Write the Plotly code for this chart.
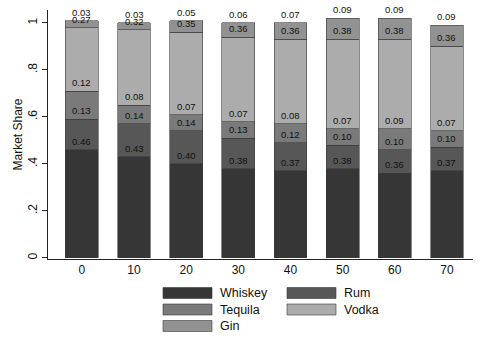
import plotly.graph_objects as go

# Market share by period, stacked from the bottom up
periods = [0, 10, 20, 30, 40, 50, 60, 70]
whiskey = [0.46, 0.43, 0.40, 0.38, 0.37, 0.38, 0.36, 0.37]
rum = [0.13, 0.14, 0.14, 0.13, 0.12, 0.10, 0.10, 0.10]
tequila = [0.12, 0.08, 0.07, 0.07, 0.08, 0.07, 0.09, 0.07]
vodka = [0.27, 0.32, 0.35, 0.36, 0.36, 0.38, 0.38, 0.36]
gin = [0.03, 0.03, 0.05, 0.06, 0.07, 0.09, 0.09, 0.09]

series_names = ["Whiskey", "Rum", "Tequila", "Vodka", "Gin"]
series_values = [whiskey, rum, tequila, vodka, gin]
series_colors = ["#363636", "#575757", "#7a7a7a", "#acacac", "#929292"]

y_ticks = [0, 0.2, 0.4, 0.6, 0.8, 1]
y_tick_labels = ["0", ".2", ".4", ".6", ".8", "1"]

W, H = 481, 343
PL, PR, PT, PB = 48, 473, 10, 259  # plot area in pixels
FONT = "Liberation Sans, Arial, sans-serif"


def px_x(x):
    return (x - PL) / (PR - PL)


def px_y(y):
    return (PB - y) / (PB - PT)


fig = go.Figure()
annotations = []
shapes = []

running = [0.0] * len(periods)
for name, vals, col in zip(series_names, series_values, series_colors):
    fig.add_trace(go.Bar(
        x=periods, y=vals, name=name, width=6.3,
        marker=dict(color=col, line=dict(color="#3a3a3a", width=0.6)),
        showlegend=False,
    ))
    running = [r + v for r, v in zip(running, vals)]
    # value label just above the end of each segment
    for xp, top, v in zip(periods, running, vals):
        annotations.append(dict(
            x=xp, y=top, xref="x", yref="y", text=f"{v:.2f}",
            showarrow=False, yanchor="bottom", yshift=1,
            font=dict(family=FONT, size=9.5, color="#111111"),
        ))

# legend block below the plot: two columns, filled row by row
col_x = [163, 287]
row_y = [293, 309.5, 326]
sw_w, sw_h = 49, 11
for i, (name, col) in enumerate(zip(series_names, series_colors)):
    cx = col_x[i % 2]
    cy = row_y[i // 2]
    shapes.append(dict(
        type="rect", xref="paper", yref="paper",
        x0=px_x(cx), x1=px_x(cx + sw_w),
        y0=px_y(cy + sw_h / 2), y1=px_y(cy - sw_h / 2),
        fillcolor=col, line=dict(color="#3a3a3a", width=0.6),
    ))
    annotations.append(dict(
        x=px_x(cx + sw_w + 6), y=px_y(cy), xref="paper", yref="paper",
        text=name, showarrow=False, xanchor="left", yanchor="middle",
        font=dict(family=FONT, size=12.5, color="#111111"),
    ))

fig.update_layout(
    width=W, height=H,
    margin=dict(l=PL, r=W - PR, t=PT, b=H - PB),
    paper_bgcolor="white", plot_bgcolor="white",
    barmode="stack",
    annotations=annotations,
    shapes=shapes,
    font=dict(family=FONT, color="#111111"),
)
fig.update_xaxes(
    range=[-6.5, 75], tickvals=periods, ticktext=[str(p) for p in periods],
    showgrid=False, zeroline=False, showline=True, linecolor="#222", linewidth=1,
    ticks="", tickfont=dict(size=12, family=FONT, color="#111111"),
)
fig.update_yaxes(
    range=[-0.005, 1.055], tickvals=y_ticks, ticktext=y_tick_labels,
    tickangle=-90, showgrid=False, zeroline=False,
    showline=True, linecolor="#222", linewidth=1,
    ticks="outside", ticklen=5, tickcolor="#222",
    tickfont=dict(size=12, family=FONT, color="#111111"),
    title=dict(text="Market Share", font=dict(size=12, family=FONT, color="#111111"), standoff=1),
)

fig.write_html("out.html")
